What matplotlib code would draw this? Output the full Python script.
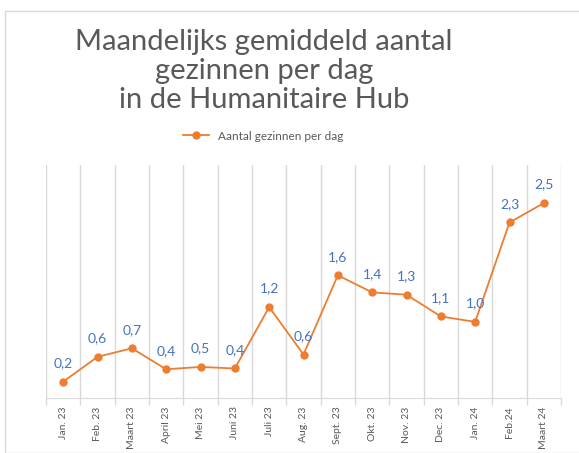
import matplotlib
matplotlib.use("Agg")
import matplotlib.pyplot as plt
from matplotlib.patches import Rectangle

months = ["Jan. 23", "Feb. 23", "Maart 23", "April 23", "Mei 23", "Juni 23", "Juli 23",
          "Aug. 23", "Sept. 23", "Okt. 23", "Nov. 23", "Dec. 23", "Jan. 24", "Feb.24", "Maart 24"]
values = [0.21, 0.53, 0.64, 0.37, 0.40, 0.38, 1.17, 0.56, 1.58, 1.36, 1.33, 1.05, 0.98, 2.26, 2.51]
value_labels = ["0,2", "0,6", "0,7", "0,4", "0,5", "0,4", "1,2", "0,6", "1,6", "1,4", "1,3",
                "1,1", "1,0", "2,3", "2,5"]
series_name = "Aantal gezinnen per dag"
title = "Maandelijks gemiddeld aantal\ngezinnen per dag\nin de Humanitaire Hub"

W, H = 579, 453
fig = plt.figure(figsize=(W / 100, H / 100), dpi=100)
fig.patch.set_facecolor("white")

# outer chart border
fig.add_artist(Rectangle((5 / W, 0), 1.2, 1 - 11 / H, transform=fig.transFigure,
                         fill=False, edgecolor="#D9D9D9", linewidth=1.0))

ax = fig.add_axes([46 / W, 1 - 398 / H, (561 - 46) / W, (398 - 165) / H])
x = list(range(len(months)))
ax.plot(x, values, color="#ED7D31", linewidth=1.3, marker="o", markersize=6,
        markeredgewidth=0, label=series_name, zorder=3)

for xi, v, lab in zip(x, values, value_labels):
    ax.annotate(lab, (xi, v), xytext=(0, 9), textcoords="offset points",
                ha="center", va="bottom", color="#4472C4", fontsize=10, family="Lato")

ax.set_xlim(-0.5, len(months) - 0.5)
ax.set_ylim(0, 3)
for b in [i - 0.5 for i in range(len(months) + 1)]:
    ax.axvline(b, color="#D9D9D9", linewidth=1.0, zorder=1)

ax.set_yticks([])
ax.set_xticks(x)
ax.set_xticklabels(months, rotation=90, fontsize=7.5, color="#595959", family="Lato")
ax.tick_params(axis="x", length=0, pad=6)
ax.set_xticks([i - 0.5 for i in range(len(months) + 1)], minor=True)
ax.tick_params(axis="x", which="minor", length=5, color="#D9D9D9", width=1)
for s in ["top", "left", "right"]:
    ax.spines[s].set_visible(False)
ax.spines["bottom"].set_color("#D9D9D9")

fig.text(264 / W, 1 - 71 / H, title, ha="center", va="center", fontsize=21,
         color="#595959", family="Lato", linespacing=1.12)

leg = fig.legend(loc="center", bbox_to_anchor=(263 / W, 1 - 136 / H), frameon=False,
                 handlelength=2.2, prop={"family": "Lato", "size": 8.5})
for t in leg.get_texts():
    t.set_color("#595959")

fig.savefig("out.png", dpi=100)
